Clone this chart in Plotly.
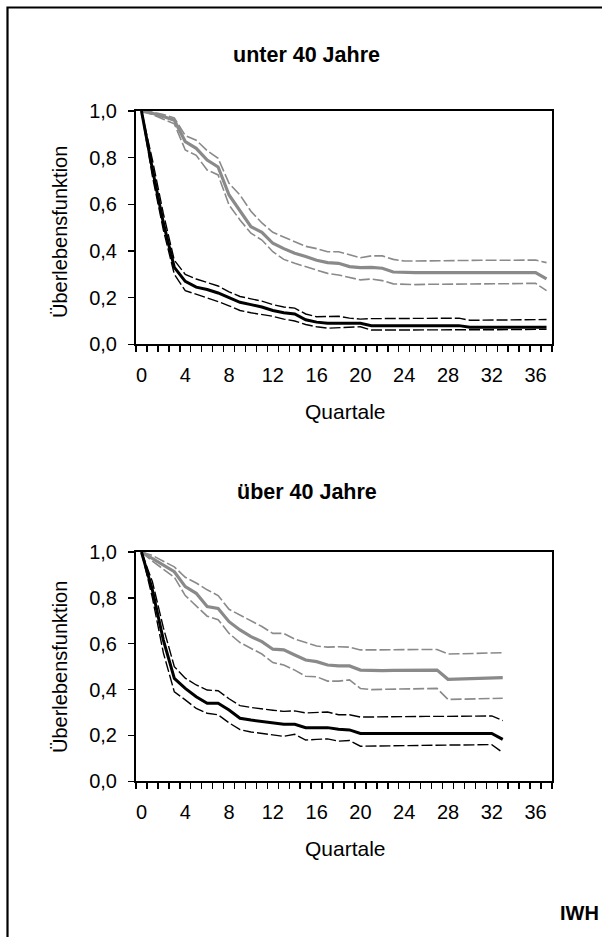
import plotly.graph_objects as go

# ---------------- data ----------------
quarters_young = list(range(0, 38))
quarters_old = list(range(0, 34))

# unter 40 Jahre
young_black = [1.0, 0.75, 0.52, 0.33, 0.27, 0.245, 0.235, 0.22, 0.2, 0.18, 0.17, 0.16, 0.145, 0.135, 0.13,
               0.105, 0.095, 0.09, 0.09, 0.09, 0.09, 0.08, 0.08, 0.08, 0.08, 0.08, 0.08, 0.08, 0.08, 0.08,
               0.073, 0.073, 0.073, 0.073, 0.073, 0.073, 0.073, 0.073]
young_black_up = [1.0, 0.79, 0.56, 0.36, 0.30, 0.28, 0.265, 0.25, 0.225, 0.205, 0.195, 0.185, 0.17, 0.16, 0.155,
                  0.13, 0.118, 0.118, 0.12, 0.112, 0.108, 0.11, 0.11, 0.11, 0.111, 0.111, 0.112, 0.112, 0.112, 0.112,
                  0.103, 0.103, 0.104, 0.104, 0.105, 0.105, 0.105, 0.106]
young_black_lo = [1.0, 0.72, 0.49, 0.30, 0.23, 0.215, 0.2, 0.183, 0.165, 0.145, 0.135, 0.128, 0.12, 0.108, 0.1,
                  0.085, 0.075, 0.069, 0.072, 0.074, 0.075, 0.061, 0.061, 0.062, 0.062, 0.062, 0.063, 0.063, 0.063, 0.063,
                  0.06, 0.061, 0.062, 0.062, 0.063, 0.063, 0.064, 0.064]
young_gray = [1.0, 0.99, 0.976, 0.96, 0.869, 0.84, 0.79, 0.76, 0.64, 0.57, 0.504, 0.48, 0.433, 0.41, 0.39,
              0.376, 0.36, 0.35, 0.347, 0.333, 0.329, 0.33, 0.326, 0.31, 0.307, 0.307, 0.307, 0.307, 0.307, 0.307,
              0.307, 0.307, 0.307, 0.307, 0.307, 0.307, 0.307, 0.28]
young_gray_up = [1.0, 0.995, 0.985, 0.97, 0.895, 0.875, 0.83, 0.797, 0.69, 0.64, 0.57, 0.52, 0.48, 0.46, 0.44,
                 0.42, 0.41, 0.397, 0.397, 0.383, 0.371, 0.379, 0.379, 0.364, 0.357, 0.357, 0.358, 0.358, 0.359, 0.359,
                 0.36, 0.36, 0.36, 0.361, 0.361, 0.361, 0.361, 0.35]
young_gray_lo = [1.0, 0.985, 0.965, 0.945, 0.833, 0.81, 0.747, 0.726, 0.597, 0.533, 0.476, 0.447, 0.397, 0.364, 0.347,
                 0.333, 0.316, 0.304, 0.297, 0.287, 0.276, 0.28, 0.273, 0.259, 0.256, 0.256, 0.257, 0.257, 0.258, 0.258,
                 0.258, 0.259, 0.259, 0.26, 0.26, 0.261, 0.261, 0.23]

# über 40 Jahre
old_black = [1.0, 0.834, 0.616, 0.449, 0.405, 0.369, 0.34, 0.34, 0.311, 0.275, 0.267, 0.26, 0.253, 0.249, 0.249,
             0.234, 0.234, 0.234, 0.227, 0.224, 0.209, 0.209, 0.209, 0.209, 0.209, 0.209, 0.209, 0.209, 0.209, 0.209,
             0.209, 0.209, 0.209, 0.183]
old_black_up = [1.0, 0.87, 0.67, 0.50, 0.45, 0.42, 0.398, 0.395, 0.36, 0.33, 0.322, 0.315, 0.31, 0.305, 0.307,
                0.298, 0.3, 0.302, 0.29, 0.29, 0.28, 0.281, 0.281, 0.282, 0.282, 0.282, 0.283, 0.283, 0.283, 0.284,
                0.284, 0.285, 0.285, 0.265]
old_black_lo = [1.0, 0.80, 0.56, 0.39, 0.355, 0.318, 0.297, 0.29, 0.255, 0.225, 0.215, 0.208, 0.2, 0.196, 0.205,
                0.18, 0.183, 0.185, 0.175, 0.178, 0.153, 0.154, 0.155, 0.155, 0.156, 0.156, 0.157, 0.157, 0.158, 0.158,
                0.159, 0.159, 0.16, 0.125]
old_gray = [1.0, 0.972, 0.943, 0.914, 0.849, 0.82, 0.762, 0.754, 0.696, 0.66, 0.631, 0.609, 0.576, 0.573, 0.551,
            0.529, 0.522, 0.507, 0.503, 0.503, 0.485, 0.483, 0.483, 0.484, 0.484, 0.485, 0.485, 0.485, 0.445, 0.446,
            0.447, 0.448, 0.449, 0.452]
old_gray_up = [1.0, 0.985, 0.96, 0.935, 0.89, 0.865, 0.835, 0.81, 0.75, 0.725, 0.7, 0.675, 0.645, 0.645, 0.62,
               0.605, 0.59, 0.585, 0.587, 0.585, 0.573, 0.573, 0.574, 0.574, 0.575, 0.575, 0.575, 0.575, 0.555, 0.556,
               0.557, 0.558, 0.559, 0.561]
old_gray_lo = [1.0, 0.96, 0.925, 0.89, 0.81, 0.765, 0.72, 0.705, 0.645, 0.605, 0.58, 0.555, 0.518, 0.507, 0.485,
               0.458, 0.456, 0.437, 0.437, 0.442, 0.405, 0.4, 0.401, 0.402, 0.403, 0.404, 0.405, 0.405, 0.357, 0.358,
               0.359, 0.36, 0.361, 0.362]

x_tick_vals = [0, 4, 8, 12, 16, 20, 24, 28, 32, 36]
x_tick_text = ["0", "4", "8", "12", "16", "20", "24", "28", "32", "36"]
x_minor_vals = [k - 0.5 for k in range(0, 39)]
y_tick_vals = [0, 0.2, 0.4, 0.6, 0.8, 1.0]
y_tick_text = ["0,0", "0,2", "0,4", "0,6", "0,8", "1,0"]

titles = ["unter 40 Jahre", "über 40 Jahre"]
axis_x_title = "Quartale"
axis_y_title = "Überlebensfunktion"

# ---------------- figure ----------------
W, H = 602, 937
BLACK = "#000000"
GRAY = "#8a8a8a"
FONT = "Arial, Liberation Sans, sans-serif"

fig = go.Figure()

panels = [
    ("x", "y", quarters_young, young_black, young_black_up, young_black_lo, young_gray, young_gray_up, young_gray_lo),
    ("x2", "y2", quarters_old, old_black, old_black_up, old_black_lo, old_gray, old_gray_up, old_gray_lo),
]

for xa, ya, q, b, bu, bl, g, gu, gl in panels:
    for vals, color, width, dash in [
        (gu, GRAY, 1.6, "11px,3px"),
        (gl, GRAY, 1.6, "11px,3px"),
        (g, GRAY, 3.2, "solid"),
        (bu, BLACK, 1.4, "11px,3px"),
        (bl, BLACK, 1.4, "11px,3px"),
        (b, BLACK, 3.0, "solid"),
    ]:
        fig.add_trace(go.Scatter(x=q, y=vals, xaxis=xa, yaxis=ya, mode="lines",
                                 line=dict(color=color, width=width, dash=dash),
                                 showlegend=False, hoverinfo="skip"))

# plot-area geometry (px)
x_left, x_right = 136, 552
top_y0, top_y1 = 111, 344.3
bot_y0, bot_y1 = 552, 781.3

def px_x(v):
    return v / W

def px_y(v):
    return 1 - v / H

xaxis_common = dict(
    range=[-0.5, 37.5], tickmode="array", tickvals=x_tick_vals, ticktext=x_tick_text,
    ticks="", showgrid=False, zeroline=False, showline=True, linecolor=BLACK, linewidth=2,
    mirror=True, tickfont=dict(family=FONT, size=20, color=BLACK), ticklabelstandoff=12,
    minor=dict(tickmode="array", tickvals=x_minor_vals, ticks="outside", ticklen=6,
               tickwidth=1.5, tickcolor=BLACK, showgrid=False),
    fixedrange=True, automargin=False,
)
yaxis_common = dict(
    range=[0, 1.0], tickmode="array", tickvals=y_tick_vals, ticktext=y_tick_text,
    ticks="outside", ticklen=6, tickwidth=1.5, tickcolor=BLACK,
    showgrid=False, zeroline=False, showline=True, linecolor=BLACK, linewidth=2,
    mirror=True, tickfont=dict(family=FONT, size=20, color=BLACK), ticklabelstandoff=7,
    fixedrange=True, automargin=False,
)

fig.update_layout(
    width=W, height=H,
    margin=dict(l=0, r=0, t=0, b=0, pad=0, autoexpand=False),
    paper_bgcolor="white", plot_bgcolor="white",
    xaxis=dict(domain=[px_x(x_left), px_x(x_right)], anchor="y", **xaxis_common),
    yaxis=dict(domain=[px_y(top_y1), px_y(top_y0)], anchor="x", **yaxis_common),
    xaxis2=dict(domain=[px_x(x_left), px_x(x_right)], anchor="y2", **xaxis_common),
    yaxis2=dict(domain=[px_y(bot_y1), px_y(bot_y0)], anchor="x2", **yaxis_common),
    showlegend=False,
)

annotations = []
for title, ty, qy, ay in [(titles[0], 55, 411.5, 232), (titles[1], 492, 848, 667)]:
    annotations.append(dict(text="<b>" + title + "</b>", x=px_x(306.5), y=px_y(ty), xref="paper", yref="paper",
                            xanchor="center", yanchor="middle", showarrow=False,
                            font=dict(family=FONT, size=21.5, color=BLACK)))
    annotations.append(dict(text=axis_x_title, x=px_x(345), y=px_y(qy), xref="paper", yref="paper",
                            xanchor="center", yanchor="middle", showarrow=False,
                            font=dict(family=FONT, size=21, color=BLACK)))
    annotations.append(dict(text=axis_y_title, x=px_x(60), y=px_y(ay), xref="paper", yref="paper",
                            xanchor="center", yanchor="middle", showarrow=False, textangle=-90,
                            font=dict(family=FONT, size=20, color=BLACK)))
annotations.append(dict(text="<b>IWH</b>", x=px_x(601), y=px_y(912.5), xref="paper", yref="paper",
                        xanchor="right", yanchor="middle", showarrow=False,
                        font=dict(family=FONT, size=20, color=BLACK)))
fig.update_layout(annotations=annotations)

# outer frame (left and top edges visible, rest beyond the page)
fig.add_shape(type="rect", xref="paper", yref="paper",
              x0=px_x(7.5), y0=-0.05, x1=1.05, y1=px_y(7.5),
              line=dict(color=BLACK, width=2.2), fillcolor="rgba(0,0,0,0)", layer="above")

fig.write_html(
    "out.html",
    config={"displayModeBar": False, "staticPlot": True},
    post_script="document.body.style.margin='0';document.body.style.padding='0';"
                "document.documentElement.style.overflow='hidden';"
                "var gd=document.getElementById('{plot_id}');"
                "gd.style.position='absolute';gd.style.top='0px';gd.style.left='0px';",
)
